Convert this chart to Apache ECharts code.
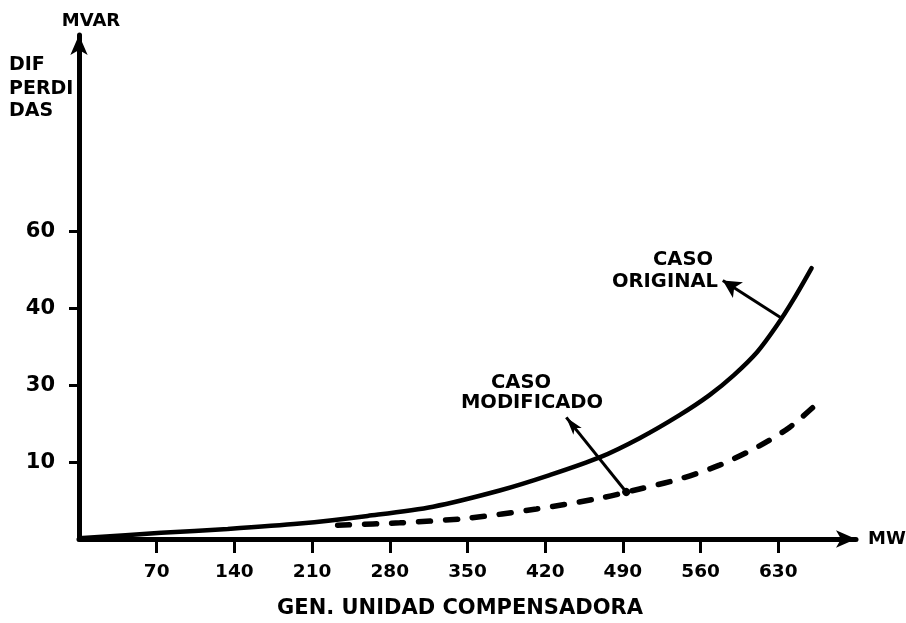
<!DOCTYPE html>
<html>
<head>
<meta charset="utf-8">
<script src="https://cdn.jsdelivr.net/npm/echarts@6/dist/echarts.min.js"></script>
<style>
  html, body { margin: 0; padding: 0; background: #ffffff; }
  #chart { width: 906px; height: 623px; }
</style>
</head>
<body>
<div id="chart"></div>
<script>
// ---- data (x in MW, y in axis units) ----
const xTickValues = [70, 140, 210, 280, 350, 420, 490, 560, 630];
const yTickValues = [10, 20, 30, 40];
const yTickLabels = ['10', '30', '40', '60'];

const origX = [0, 74, 134, 199, 260, 319, 379, 424, 469, 505, 541, 568, 590, 611, 629, 644, 660];
const origY = [0.1, 0.8, 1.3, 2.0, 3.0, 4.2, 6.3, 8.3, 10.6, 13.1, 16.1, 18.7, 21.3, 24.3, 27.8, 31.2, 35.2];

const modX = [233, 289, 350, 412, 469, 505, 541, 577, 613, 640, 665];
const modY = [1.8, 2.1, 2.7, 3.9, 5.3, 6.5, 7.8, 9.6, 12.1, 14.5, 17.6];

// annotation arrows (data coordinates): [from, to]
const origArrow = [[632, 28.8], [580, 33.6]];
const modArrow = [[493, 6.1], [439, 15.8]];

const FONT = 'DejaVu Sans';
const chart = echarts.init(document.getElementById('chart'), null, { renderer: 'canvas' });

const zip = (xs, ys) => xs.map((x, i) => [x, ys[i]]);
const txt = (size) => 'bold ' + size + 'px "DejaVu Sans"';

const option = {
  animation: false,
  backgroundColor: '#ffffff',
  grid: { left: 79, right: 50, top: 35, bottom: 84, containLabel: false, outerBoundsMode: 'none' },
  xAxis: {
    type: 'value',
    min: 0,
    max: 700,
    name: 'MW',
    nameLocation: 'end',
    nameGap: 12,
    nameTextStyle: { color: '#000', fontFamily: FONT, fontWeight: 'bold', fontSize: 18, verticalAlign: 'middle' },
    axisLine: { show: true, onZero: false, symbol: ['none', 'arrow'], symbolSize: [13, 20], lineStyle: { color: '#000', width: 5 } },
    axisTick: { show: true, inside: false, length: 14, customValues: xTickValues, lineStyle: { color: '#000', width: 3 } },
    axisLabel: { show: true, margin: 24, customValues: xTickValues, color: '#000', fontFamily: FONT, fontWeight: 'bold', fontSize: 18.5 },
    splitLine: { show: false }
  },
  yAxis: {
    type: 'value',
    min: 0,
    max: 65.5,
    axisLine: { show: true, onZero: false, symbol: ['none', 'arrow'], symbolSize: [13, 20], lineStyle: { color: '#000', width: 5 } },
    axisTick: { show: true, inside: false, length: 10, customValues: yTickValues, lineStyle: { color: '#000', width: 3 } },
    axisLabel: {
      show: true, margin: 24, customValues: yTickValues, color: '#000', fontFamily: FONT, fontWeight: 'bold', fontSize: 21,
      formatter: (v) => { const i = yTickValues.indexOf(v); return i >= 0 ? yTickLabels[i] : ''; }
    },
    splitLine: { show: false }
  },
  series: [
    {
      name: 'CASO ORIGINAL',
      type: 'line',
      data: zip(origX, origY),
      smooth: 0.3,
      symbol: 'none',
      lineStyle: { color: '#000', width: 4.5, type: 'solid', cap: 'round' },
      markLine: {
        silent: true,
        symbol: ['none', 'arrow'],
        symbolSize: [14, 18],
        label: { show: false },
        lineStyle: { color: '#000', width: 3, type: 'solid' },
        data: [[{ coord: origArrow[0] }, { coord: origArrow[1] }]]
      }
    },
    {
      name: 'CASO MODIFICADO',
      type: 'line',
      data: zip(modX, modY),
      smooth: 0.3,
      symbol: 'none',
      lineStyle: { color: '#000', width: 5.5, type: [12, 15], cap: 'round' },
      markLine: {
        silent: true,
        symbol: ['circle', 'arrow'],
        symbolSize: [8, 18],
        label: { show: false },
        lineStyle: { color: '#000', width: 3, type: 'solid' },
        data: [[{ coord: modArrow[0] }, { coord: modArrow[1] }]]
      }
    }
  ],
  graphic: [
    { type: 'text', x: 91, y: 21, style: { text: 'MVAR', fill: '#000', font: txt(18), align: 'center', verticalAlign: 'middle' } },
    { type: 'text', x: 9, y: 65, style: { text: 'DIF', fill: '#000', font: txt(19), align: 'left', verticalAlign: 'middle' } },
    { type: 'text', x: 9, y: 89, style: { text: 'PERDI', fill: '#000', font: txt(19), align: 'left', verticalAlign: 'middle' } },
    { type: 'text', x: 9, y: 111, style: { text: 'DAS', fill: '#000', font: txt(19), align: 'left', verticalAlign: 'middle' } },
    { type: 'text', x: 460, y: 609, style: { text: 'GEN. UNIDAD COMPENSADORA', fill: '#000', font: txt(21), align: 'center', verticalAlign: 'middle' } },
    { type: 'text', x: 683, y: 260, style: { text: 'CASO', fill: '#000', font: txt(19.5), align: 'center', verticalAlign: 'middle' } },
    { type: 'text', x: 665, y: 282, style: { text: 'ORIGINAL', fill: '#000', font: txt(19.5), align: 'center', verticalAlign: 'middle' } },
    { type: 'text', x: 521, y: 383, style: { text: 'CASO', fill: '#000', font: txt(19.5), align: 'center', verticalAlign: 'middle' } },
    { type: 'text', x: 532, y: 403, style: { text: 'MODIFICADO', fill: '#000', font: txt(19.5), align: 'center', verticalAlign: 'middle' } }
  ]
};

chart.setOption(option);
</script>
</body>
</html>
